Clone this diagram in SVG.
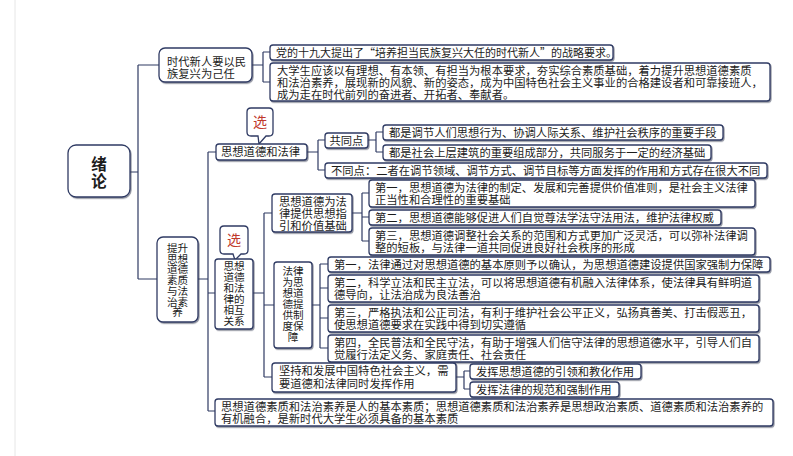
<svg xmlns="http://www.w3.org/2000/svg" width="793" height="456" viewBox="0 0 793 456">
<style>
.b{fill:#fff;stroke:#2f3a63;stroke-width:1.3}
.c{fill:none;stroke:#2f3a63;stroke-width:1.2}
text{font-family:"Noto Sans CJK SC","Noto Sans",sans-serif;font-size:11.3px;fill:#1c1c1c}
.n{font-size:10.6px;text-anchor:middle}
.r{fill:#c0392b;font-size:14px;text-anchor:middle}
</style>
<defs>
<filter id="sh" x="-5%" y="-5%" width="110%" height="120%"><feDropShadow dx="1" dy="1.2" stdDeviation="0.4" flood-color="#3a3f55" flood-opacity="0.55"/></filter>
</defs>
<rect width="793" height="456" fill="#fff"/>
<line x1="15" y1="0" x2="15" y2="456" stroke="#e6e6e6" stroke-width="1"/>

<g id="connectors" class="c">
<path d="M130,172H138M138,65V279M138,65H159M138,279H157"/>
<path d="M252,65H263M263,52V82M263,52H270M263,82H270"/>
<path d="M198,279H208M208,152V411M208,152H216M208,293H215M208,411H215"/>
<path d="M307,152H318M318,140V170M318,140H325M318,170H325"/>
<path d="M368,140H376M376,132V152M376,132H383M376,152H383"/>
<path d="M253,293H264M264,213V377M264,213H272M264,305H274M264,377H272"/>
<path d="M352,213H362M362,193V241M362,193H369M362,217H369M362,241H369"/>
<path d="M312,305H320M320,264V348M320,264H328M320,288H328M320,318H328M320,348H328"/>
<path d="M456,377H464M464,371V389M464,371H470M464,389H470"/>
</g>

<g id="root">
<rect class="b" x="68" y="145" width="62" height="52" rx="8" filter="url(#sh)"/>
<text x="99" y="170" style="font-size:15.5px;font-weight:bold;text-anchor:middle">绪<tspan x="99" dy="17">论</tspan></text>
</g>

<g id="n-shidai">
<rect class="b" x="159" y="48" width="93" height="34" rx="6" filter="url(#sh)"/>
<text x="167" y="65.5">时代新人要以民<tspan x="167" dy="12">族复兴为己任</tspan></text>
</g>
<g id="n-a1">
<rect class="b" x="270" y="45" width="343" height="15" rx="3" filter="url(#sh)"/>
<text x="276" y="56.5" style="font-size:11px">党的十九大提出了“培养担当民族复兴大任的时代新人”的战略要求。</text>
</g>
<g id="n-a2">
<rect class="b" x="270" y="63" width="500" height="38" rx="3" filter="url(#sh)"/>
<text x="277" y="75">大学生应该以有理想、有本领、有担当为根本要求，夯实综合素质基础，着力提升思想道德素质<tspan x="277" dy="11.8">和法治素养，展现新的风貌、新的姿态，成为中国特色社会主义事业的合格建设者和可靠接班人，</tspan><tspan x="277" dy="11.7">成为走在时代前列的奋进者、开拓者、奉献者。</tspan></text>
</g>

<g id="n-tisheng">
<rect class="b" x="157" y="237" width="41" height="85" rx="6" filter="url(#sh)"/>
<text class="n" x="177.5" y="252">提升<tspan x="177.5" dy="10.7">思想</tspan><tspan x="177.5" dy="10.7">道德</tspan><tspan x="177.5" dy="10.7">素质</tspan><tspan x="177.5" dy="10.7">与法</tspan><tspan x="177.5" dy="10.7">治素</tspan><tspan x="177.5" dy="10.7">养</tspan></text>
</g>

<g id="callout-1">
<path class="b" d="M251,108H269Q273,108 273,112V132Q273,136 269,136H266L259,144L258,136H251Q247,136 247,132V112Q247,108 251,108Z"/>
<text class="r" x="260" y="127">选</text>
</g>
<g id="n-daode-falv">
<rect class="b" x="216" y="144" width="91" height="16" rx="3" filter="url(#sh)"/>
<text x="221" y="156">思想道德和法律</text>
</g>
<g id="n-gongtong">
<rect class="b" x="325" y="133" width="43" height="15" rx="3" filter="url(#sh)"/>
<text x="329.5" y="144.5">共同点</text>
</g>
<g id="n-g1">
<rect class="b" x="383" y="125" width="340" height="15" rx="3" filter="url(#sh)"/>
<text x="389" y="136.5">都是调节人们思想行为、协调人际关系、维护社会秩序的重要手段</text>
</g>
<g id="n-g2">
<rect class="b" x="383" y="145" width="328" height="15" rx="3" filter="url(#sh)"/>
<text x="389" y="156.5">都是社会上层建筑的重要组成部分，共同服务于一定的经济基础</text>
</g>
<g id="n-butong">
<rect class="b" x="325" y="163" width="442" height="15" rx="3" filter="url(#sh)"/>
<text x="331" y="174.5">不同点：二者在调节领域、调节方式、调节目标等方面发挥的作用和方式存在很大不同</text>
</g>

<g id="callout-2">
<path class="b" d="M224,226H244Q248,226 248,230V250Q248,254 244,254H241L235,260L233,254H224Q220,254 220,250V230Q220,226 224,226Z"/>
<text class="r" x="234" y="245">选</text>
</g>
<g id="n-xianghu">
<rect class="b" x="215" y="259" width="38" height="70" rx="3" filter="url(#sh)"/>
<text class="n" x="234" y="270">思想<tspan x="234" dy="11">道德</tspan><tspan x="234" dy="11">和法</tspan><tspan x="234" dy="11">律的</tspan><tspan x="234" dy="11">相互</tspan><tspan x="234" dy="11">关系</tspan></text>
</g>

<g id="n-zhiyin">
<rect class="b" x="272" y="194" width="80" height="38" rx="3" filter="url(#sh)"/>
<text x="279" y="205.5">思想道德为法<tspan x="279" dy="12">律提供思想指</tspan><tspan x="279" dy="12">引和价值基础</tspan></text>
</g>
<g id="n-z1">
<rect class="b" x="369" y="180" width="386" height="27" rx="3" filter="url(#sh)"/>
<text x="375" y="191.5">第一，思想道德为法律的制定、发展和完善提供价值准则，是社会主义法律<tspan x="375" dy="12">正当性和合理性的重要基础</tspan></text>
</g>
<g id="n-z2">
<rect class="b" x="369" y="210" width="352" height="15" rx="3" filter="url(#sh)"/>
<text x="375" y="221.5">第二，思想道德能够促进人们自觉尊法学法守法用法，维护法律权威</text>
</g>
<g id="n-z3">
<rect class="b" x="369" y="228" width="386" height="27" rx="3" filter="url(#sh)"/>
<text x="375" y="239.5">第三，思想道德调整社会关系的范围和方式更加广泛灵活，可以弥补法律调<tspan x="375" dy="12">整的短板，与法律一道共同促进良好社会秩序的形成</tspan></text>
</g>

<g id="n-baozhang">
<rect class="b" x="274" y="262" width="38" height="86" rx="3" filter="url(#sh)"/>
<text class="n" x="293" y="275">法律<tspan x="293" dy="11">为思</tspan><tspan x="293" dy="11">想道</tspan><tspan x="293" dy="11">德提</tspan><tspan x="293" dy="11">供制</tspan><tspan x="293" dy="11">度保</tspan><tspan x="293" dy="11">障</tspan></text>
</g>
<g id="n-f1">
<rect class="b" x="328" y="257" width="442" height="15" rx="3" filter="url(#sh)"/>
<text x="334" y="268.5">第一，法律通过对思想道德的基本原则予以确认，为思想道德建设提供国家强制力保障</text>
</g>
<g id="n-f2">
<rect class="b" x="328" y="275" width="431" height="27" rx="3" filter="url(#sh)"/>
<text x="334" y="286.5">第二，科学立法和民主立法，可以将思想道德有机融入法律体系，使法律具有鲜明道<tspan x="334" dy="12">德导向，让法治成为良法善治</tspan></text>
</g>
<g id="n-f3">
<rect class="b" x="328" y="305" width="431" height="27" rx="3" filter="url(#sh)"/>
<text x="334" y="316.5">第三，严格执法和公正司法，有利于维护社会公平正义，弘扬真善美、打击假恶丑，<tspan x="334" dy="12">使思想道德要求在实践中得到切实遵循</tspan></text>
</g>
<g id="n-f4">
<rect class="b" x="328" y="335" width="431" height="27" rx="3" filter="url(#sh)"/>
<text x="334" y="346.5">第四，全民普法和全民守法，有助于增强人们信守法律的思想道德水平，引导人们自<tspan x="334" dy="12">觉履行法定义务、家庭责任、社会责任</tspan></text>
</g>

<g id="n-jianchi">
<rect class="b" x="272" y="363" width="184" height="29" rx="3" filter="url(#sh)"/>
<text x="279" y="375">坚持和发展中国特色社会主义，需<tspan x="279" dy="12.5">要道德和法律同时发挥作用</tspan></text>
</g>
<g id="n-j1">
<rect class="b" x="470" y="364" width="171" height="15" rx="3" filter="url(#sh)"/>
<text x="476" y="375.5">发挥思想道德的引领和教化作用</text>
</g>
<g id="n-j2">
<rect class="b" x="470" y="382" width="149" height="15" rx="3" filter="url(#sh)"/>
<text x="476" y="393.5">发挥法律的规范和强制作用</text>
</g>

<g id="n-bottom">
<rect class="b" x="215" y="399" width="558" height="27" rx="3" filter="url(#sh)"/>
<text x="221" y="410.5">思想道德素质和法治素养是人的基本素质；思想道德素质和法治素养是思想政治素质、道德素质和法治素养的<tspan x="221" dy="12">有机融合，是新时代大学生必须具备的基本素质</tspan></text>
</g>
</svg>
